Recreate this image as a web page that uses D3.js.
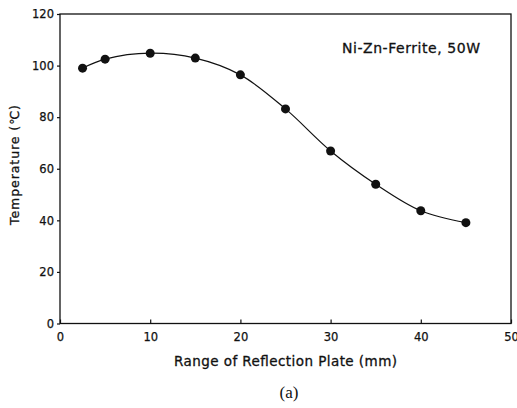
<!DOCTYPE html>
<html><head><meta charset="utf-8">
<script src="https://cdn.jsdelivr.net/npm/d3@7"></script>
<style>body{margin:0;background:#fff}svg{display:block}</style>
</head><body>
<svg id="c" width="517" height="408"></svg>
<script>
const rangeMm = [2.5, 5, 10, 15, 20, 25, 30, 35, 40, 45];
const temperature = [99.0, 102.5, 104.8, 102.9, 96.4, 83.2, 66.9, 54.0, 43.7, 39.1];
const xTicks = [0, 10, 20, 30, 40, 50];
const yTicks = [0, 20, 40, 60, 80, 100, 120];

const svg = d3.select("#c");
const L = 60, R = 511, T = 14, B = 323.5;
const x = d3.scaleLinear().domain([0, 50]).range([L, R]);
const y = d3.scaleLinear().domain([0, 120]).range([B, T]);
const font = "'DejaVu Sans', Arial, sans-serif";

svg.append("rect").attr("x", L).attr("y", T).attr("width", R - L).attr("height", B - T)
  .attr("fill", "none").attr("stroke", "#111").attr("stroke-width", 1.3);

const xa = svg.append("g").attr("transform", `translate(0,${B})`)
  .call(d3.axisBottom(x).tickValues(xTicks).tickSizeInner(-4).tickSizeOuter(0).tickPadding(9));
const ya = svg.append("g").attr("transform", `translate(${L},0)`)
  .call(d3.axisLeft(y).tickValues(yTicks).tickSize(3).tickSizeOuter(0).tickPadding(3));
[xa, ya].forEach(a => {
  a.select(".domain").remove();
  a.selectAll("line").attr("stroke", "#111").attr("stroke-width", 1.2);
  a.selectAll("text").attr("font-family", font).attr("font-size", 11.5).attr("fill", "#111")
    .attr("stroke", "#111").attr("stroke-width", 0.25);
});

const line = d3.line().x((d, i) => x(rangeMm[i])).y(d => y(d)).curve(d3.curveCatmullRom.alpha(0.5));
svg.append("path").datum(temperature).attr("d", line)
  .attr("fill", "none").attr("stroke", "#111").attr("stroke-width", 1.2);
svg.selectAll("circle.pt").data(temperature).enter().append("circle")
  .attr("cx", (d, i) => x(rangeMm[i])).attr("cy", d => y(d)).attr("r", 4.5).attr("fill", "#111");

function label(t) {
  return t.attr("font-family", font).attr("fill", "#111").attr("stroke", "#111").attr("stroke-width", 0.3);
}
label(svg.append("text").attr("x", 342).attr("y", 53).attr("font-size", 14)
  .attr("textLength", 138).attr("lengthAdjust", "spacing").text("Ni-Zn-Ferrite, 50W"));
label(svg.append("text").attr("x", 174).attr("y", 366).attr("font-size", 13.5)
  .attr("textLength", 223).attr("lengthAdjust", "spacing").text("Range of Reflection Plate (mm)"));
label(svg.append("text").attr("transform", "translate(19,225) rotate(-90)").attr("font-size", 12.5)
  .attr("textLength", 120).attr("lengthAdjust", "spacing").text("Temperature (℃)"));
svg.append("text").attr("x", 289).attr("y", 398).attr("text-anchor", "middle")
  .attr("font-family", "'Liberation Serif', 'Times New Roman', serif").attr("font-size", 17)
  .attr("fill", "#111").text("(a)");
</script>
</body></html>
